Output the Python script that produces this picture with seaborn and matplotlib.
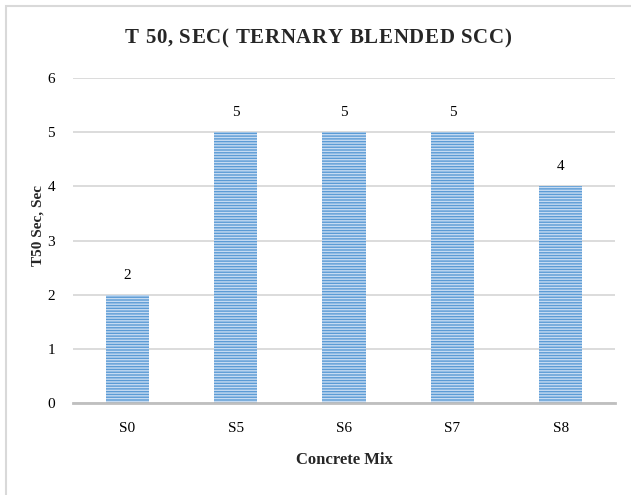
import matplotlib
matplotlib.use("Agg")
import matplotlib.pyplot as plt
from matplotlib.patches import Rectangle
import seaborn as sns
import pandas as pd

mixes = ["S0", "S5", "S6", "S7", "S8"]
t50_sec = [2, 5, 5, 5, 4]
y_ticks = [0, 1, 2, 3, 4, 5, 6]
title = "T 50, SEC( TERNARY BLENDED SCC)"

sns.set_theme(style="white")
plt.rcParams["font.family"] = ["Liberation Serif", "DejaVu Serif"]
plt.rcParams["hatch.linewidth"] = 1.0

df = pd.DataFrame({"mix": mixes, "t50": t50_sec})

fig = plt.figure(figsize=(6.31, 4.95), dpi=100)
ax = fig.add_axes([73 / 631, 1 - 403 / 495, (615 - 73) / 631, (403 - 78) / 495])

sns.barplot(data=df, x="mix", y="t50", ax=ax, color="#5b9bd5", width=0.4,
            saturation=1, zorder=3)
for bar in ax.patches:
    bar.set_facecolor("#5b9bd5")
    bar.set_edgecolor("#c6dbf2")
    bar.set_linewidth(0)
    bar.set_hatch("------")

for i, v in enumerate(t50_sec):
    ax.text(i, v + 0.36, f"{v}", ha="center", va="center", fontsize=11, color="#000000")

ax.set_ylim(0, 6)
ax.set_yticks(y_ticks)
ax.set_xlim(-0.5, len(mixes) - 0.5)
ax.yaxis.grid(True, color="#d9d9d9", linewidth=1.3, zorder=0)
ax.set_axisbelow(True)
for s in ["top", "right", "left"]:
    ax.spines[s].set_visible(False)
ax.spines["bottom"].set_color("#bfbfbf")
ax.spines["bottom"].set_linewidth(2)
ax.spines["bottom"].set_zorder(4)
ax.tick_params(axis="both", length=0, labelsize=11, colors="#000000")
ax.tick_params(axis="x", pad=14)
ax.tick_params(axis="y", pad=13)

ax.set_xlabel("Concrete Mix", fontsize=12, fontweight="bold")
ax.set_ylabel("T50 Sec, Sec", fontsize=11, fontweight="bold")
ax.xaxis.set_label_coords(0.5, -(460 - 403) / 325)
ax.yaxis.set_label_coords(-(73 - 38) / 542, (403 - 226) / 325)
ax.xaxis.label.set_va("center")
ax.yaxis.label.set_va("center")

# letter-spaced chart title
renderer = fig.canvas.get_renderer()
tracking = 0.7  # extra pixels between characters
pieces = []
total = 0.0
for ch in title:
    t = fig.text(0, 0, ch, fontsize=15, fontweight="bold", va="center", ha="left")
    w = t.get_window_extent(renderer).width
    pieces.append((t, w))
    total += w + tracking
total -= tracking
x = 318 - total / 2
for t, w in pieces:
    t.set_position((x / 631, 1 - 38 / 495))
    x += w + tracking

fig.patches.append(Rectangle((6 / 631, -0.1), 1.2, 1 - 6 / 495 + 0.1,
                             transform=fig.transFigure, fill=False,
                             edgecolor="#d9d9d9", linewidth=1.5))

fig.savefig("out.png", dpi=100)
